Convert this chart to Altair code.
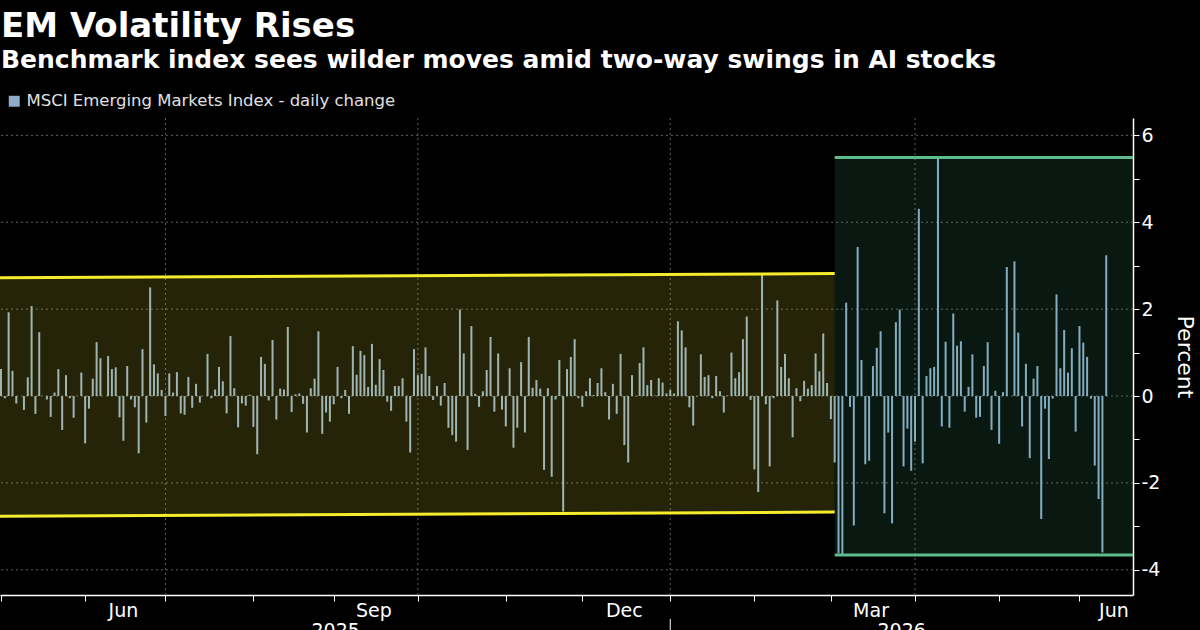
import altair as alt
import pandas as pd

TITLE = "EM Volatility Rises"
SUBTITLE = "Benchmark index sees wilder moves amid two-way swings in AI stocks"
SERIES = "MSCI Emerging Markets Index - daily change"
Y_TITLE = "Percent"

first_day = "2025-05-01"
axis_end_day = "2026-06-19"

# daily % change, one value per business day starting 2025-05-01
daily_change = [
    0.62, -0.05, 1.93, 0.58, -0.17, 0.0, -0.32, 0.43, 2.07, -0.41,
    1.47, 0.0, -0.08, -0.48, 0.08, 0.62, -0.78, 0.48, -0.05, -0.50,
    0.0, 0.54, -1.09, -0.29, 0.40, 1.24, 0.87, 0.0, 0.92, 0.62,
    0.66, -0.49, -1.03, 0.69, -0.08, -0.26, -1.32, 1.08, -0.61, 2.50,
    0.73, 0.52, 0.14, -0.46, 0.52, 0.08, 0.55, -0.40, -0.43, 0.44,
    -0.27, 0.28, -0.15, 0.0, 0.97, -0.05, 0.15, 0.67, 0.34, -0.40,
    1.38, 0.18, -0.72, -0.17, -0.22, 0.03, -0.71, -1.34, 0.90, 0.74,
    -0.10, 1.29, -0.54, 0.17, 0.15, 1.59, -0.37, 0.04, 0.06, -0.18,
    -0.84, 0.18, 0.40, 1.49, -0.87, -0.38, -0.59, -0.19, 0.67, -0.05,
    0.14, -0.41, 1.15, 0.49, 1.04, 0.94, 0.21, 1.20, 0.26, 0.85,
    0.60, -0.13, -0.34, 0.23, 0.23, 0.41, -0.59, -1.30, 1.08, 0.48,
    0.51, 1.12, 0.46, -0.09, 0.23, -0.22, 0.30, -0.73, -0.90, -1.05,
    1.99, 0.98, -1.24, 1.61, 0.05, -0.25, 0.11, 0.60, 1.36, -0.36,
    0.98, -0.31, -0.70, 0.64, -1.19, -0.73, 0.78, -0.84, 1.36, 0.19,
    0.37, 0.17, -1.70, 0.18, -1.86, -0.08, 0.83, -2.66, 0.62, 0.90,
    1.31, -0.05, -0.25, 0.11, 0.41, 0.02, 0.30, 0.64, 0.09, -0.54,
    0.28, -0.41, 0.97, -1.13, -1.53, 0.48, -0.01, 0.76, 1.12, 0.25,
    0.37, 0.01, 0.41, 0.31, 0.06, 0.14, 0.06, 1.72, 1.51, 1.12,
    -0.26, -0.68, -0.01, 0.96, 0.44, 0.48, -0.05, 0.46, 0.11, -0.38,
    0.01, 1.00, 0.41, 0.55, 1.31, 1.83, -0.09, -1.69, -2.21, 2.80,
    -0.19, -1.62, -0.05, 2.20, 0.67, 0.97, 0.41, -0.95, 0.18, -0.12,
    0.35, 0.17, 0.25, 0.98, 0.57, 1.44, 0.30, -0.53, -1.53, -3.62,
    -3.66, 2.15, -0.25, -2.98, 3.43, 0.83, -1.57, -1.49, 0.69, 1.11,
    1.49, -2.70, -0.84, -2.93, 1.70, 1.99, -1.62, -0.75, -1.72, -1.05,
    4.31, -1.55, 0.46, 0.64, 0.67, 5.49, -0.70, 1.25, -0.73, 1.90,
    1.16, 1.26, -0.36, 0.21, 0.96, -0.50, -0.48, 0.69, 1.24, -0.78,
    0.12, -1.10, 0.09, 2.97, 0.0, 3.10, 1.46, -0.70, 0.74, -1.43,
    0.40, 0.69, -2.83, -0.29, -1.45, -0.06, 2.34, 0.64, 1.52, 0.54,
    1.10, -0.82, 1.61, 1.23, 0.90, -0.06, -1.60, -2.37, -3.60, 3.24,
]

label_months = ["2025-06-01", "2025-09-01", "2025-12-01", "2026-03-01", "2026-06-01"]
label_text = ["Jun", "Sep", "Dec", "Mar", "Jun"]
grid_days = ["2025-07-01", "2025-10-01", "2026-01-01", "2026-04-01"]
year_text = ["2025", "2026"]
year_start = ["2025-05-01", "2026-01-01"]
year_end = ["2026-01-01", "2026-06-19"]
y_ticks = [-4, -3, -2, -1, 0, 1, 2, 3, 4, 5, 6]
y_grid = [-4, -2, 0, 2, 4, 6]

# range bands
calm_band_top = [2.72, 2.82]
calm_band_bottom = [-2.77, -2.67]
volatile_start = "2026-03-03"
volatile_band_top = 5.49
volatile_band_bottom = -3.66

# ---- colours / styles
BG = "#000000"
BAR = "#8eabc8"
YELLOW_FILL = "#fff033"
YELLOW_LINE = "#f4ec2c"
GREEN_FILL = "#45c08c"
GREEN_LINE = "#5cbc8c"
GRID = "#5e5e5e"
FONT = "DejaVu Sans"

# ---- business-day calendar
cal = pd.bdate_range(first_day, "2026-08-31")


def pos(d):
    return int(cal.searchsorted(pd.Timestamp(d)))


x_min = -0.26
x_max = pos(axis_end_day)

bars = pd.DataFrame({
    "i": list(range(len(daily_change))),
    "date": cal[: len(daily_change)].strftime("%Y-%m-%d"),
    "v": daily_change,
    "series": SERIES,
})

month_starts = sorted({pos(pd.Timestamp(y, m, 1)) for y, m in
                       [(2025, m) for m in range(5, 13)] + [(2026, m) for m in range(1, 7)]})

lab_rows = []
for d, t in zip(label_months, label_text):
    a = pos(d)
    b = pos(pd.Timestamp(d) + pd.offsets.MonthBegin(1))
    lab_rows.append({"i": min((a + b - 1) / 2, x_max - 5), "t": t})
labels_df = pd.DataFrame(lab_rows)

years_df = pd.DataFrame({
    "i": [(pos(a) + pos(b)) / 2 for a, b in zip(year_start, year_end)],
    "t": year_text,
})
year_sep_df = pd.DataFrame({"i": [pos(year_start[1])]})

vgrid_df = pd.DataFrame({"i": [pos(d) for d in grid_days]})
hgrid_df = pd.DataFrame({"y": y_grid})

vs = pos(volatile_start)
calm_df = pd.DataFrame({
    "x": [x_min, vs], "top": calm_band_top, "bottom": calm_band_bottom,
})
calm_line_df = pd.DataFrame({
    "x": [x_min, x_min], "x2": [vs, vs],
    "y": [calm_band_top[0], calm_band_bottom[0]],
    "y2": [calm_band_top[1], calm_band_bottom[1]],
})
vol_df = pd.DataFrame({"x": [vs], "x2": [x_max],
                       "top": [volatile_band_top], "bottom": [volatile_band_bottom]})
vol_line_df = pd.DataFrame({"x": [vs, vs], "x2": [x_max, x_max],
                            "y": [volatile_band_top, volatile_band_bottom]})

xs = alt.Scale(domain=[x_min, x_max], nice=False, zero=False, padding=0)
ys = alt.Scale(domain=[-4.58, 6.4], nice=False, zero=False, padding=0)

W, H = 1133, 477

vgrid = alt.Chart(vgrid_df).mark_rule(color=GRID, strokeDash=[2, 3], strokeWidth=1).encode(
    x=alt.X("i:Q", scale=xs, axis=None))
hgrid = alt.Chart(hgrid_df).mark_rule(color=GRID, strokeDash=[2, 3], strokeWidth=1).encode(
    y=alt.Y("y:Q", scale=ys, axis=None))

bar_layer = alt.Chart(bars).mark_bar(size=2).encode(
    x=alt.X("i:Q", scale=xs, title=None,
            axis=alt.Axis(values=month_starts, labels=False, tickSize=6, tickColor="white",
                          tickWidth=1, domainColor="white", domainWidth=1.5, grid=False)),
    y=alt.Y("v:Q", scale=ys, title=Y_TITLE,
            axis=alt.Axis(orient="right", values=y_ticks,
                          labelExpr="datum.value % 2 == 0 ? '' + datum.value : ''",
                          tickSize=6, tickColor="white", domainColor="white", domainWidth=1.5,
                          grid=False, labelColor="white", labelFontSize=19, labelFont=FONT,
                          labelPadding=2, titleColor="white", titleFontSize=22,
                          titleFont=FONT, titleFontWeight="normal", titleAngle=90,
                          titlePadding=13)),
    y2=alt.datum(0),
    color=alt.Color("series:N", scale=alt.Scale(domain=[SERIES], range=[BAR]),
                    legend=alt.Legend(orient="none", legendX=6, legendY=-25, title=None,
                                      symbolType="square", symbolSize=120,
                                      symbolStrokeWidth=0, labelColor="#e0e0e0",
                                      labelFontSize=16.5, labelFont=FONT, labelLimit=800)),
)

calm_area = alt.Chart(calm_df).mark_area(color=YELLOW_FILL, opacity=0.15).encode(
    x=alt.X("x:Q", scale=xs, axis=None),
    y=alt.Y("top:Q", scale=ys, axis=None),
    y2="bottom:Q",
)
calm_lines = alt.Chart(calm_line_df).mark_rule(color=YELLOW_LINE, strokeWidth=3).encode(
    x=alt.X("x:Q", scale=xs, axis=None), x2="x2:Q",
    y=alt.Y("y:Q", scale=ys, axis=None), y2="y2:Q",
)
vol_area = alt.Chart(vol_df).mark_rect(color=GREEN_FILL, opacity=0.13).encode(
    x=alt.X("x:Q", scale=xs, axis=None), x2="x2:Q",
    y=alt.Y("top:Q", scale=ys, axis=None), y2="bottom:Q",
)
vol_lines = alt.Chart(vol_line_df).mark_rule(color=GREEN_LINE, strokeWidth=3).encode(
    x=alt.X("x:Q", scale=xs, axis=None), x2="x2:Q",
    y=alt.Y("y:Q", scale=ys, axis=None),
)

month_labels = alt.Chart(labels_df).mark_text(
    color="white", fontSize=19, font=FONT, baseline="alphabetic", align="center").encode(
    x=alt.X("i:Q", scale=xs, axis=None), y=alt.value(H + 22), text="t:N")
year_labels = alt.Chart(years_df).mark_text(
    color="white", fontSize=19, font=FONT, baseline="alphabetic", align="center").encode(
    x=alt.X("i:Q", scale=xs, axis=None), y=alt.value(H + 42), text="t:N")
year_sep = alt.Chart(year_sep_df).mark_rule(color="white", strokeWidth=1).encode(
    x=alt.X("i:Q", scale=xs, axis=None), y=alt.value(H + 24), y2=alt.value(H + 60))

chart = alt.layer(
    hgrid, vgrid, bar_layer, calm_area, vol_area, calm_lines, vol_lines,
    month_labels, year_labels, year_sep,
).resolve_axis(x="independent", y="independent").properties(
    width=W, height=H,
    autosize=alt.AutoSizeParams(type="none"),
    padding={"left": 0, "top": 118, "right": 67, "bottom": 35},
    title=alt.TitleParams(
        text=TITLE, subtitle=SUBTITLE, anchor="start", frame="group",
        font=FONT, fontSize=34, fontWeight="bold", color="white",
        subtitleFont=FONT, subtitleFontSize=25, subtitleFontWeight="bold",
        subtitleColor="white", subtitlePadding=4, offset=20, dx=1,
    ),
).configure(background=BG).configure_view(stroke=None)

chart.save("out.html", embed_options={"renderer": "svg", "actions": False})
